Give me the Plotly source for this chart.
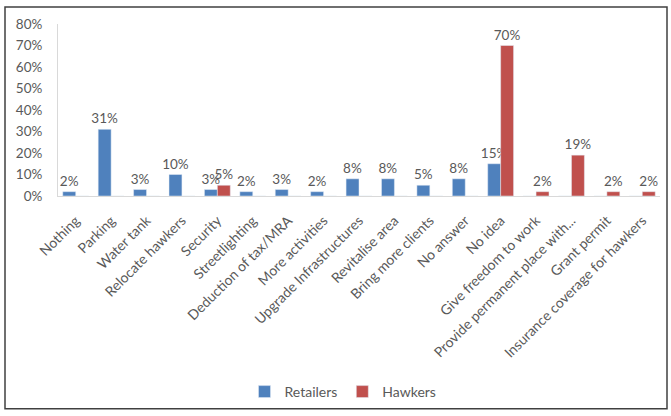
import plotly.graph_objects as go

categories = ["Nothing", "Parking", "Water tank", "Relocate hawkers", "Security",
              "Streetlighting", "Deduction of tax/MRA", "More activities",
              "Upgrade Infrastructures", "Revitalise area", "Bring more clients",
              "No answer", "No idea", "Give freedom to work",
              "Provide permanent place with...", "Grant permit",
              "Insurance coverage for hawkers"]
retailers = [2, 31, 3, 10, 3, 2, 3, 2, 8, 8, 5, 8, 15, 0, 0, 0, 0]
hawkers = [0, 0, 0, 0, 5, 0, 0, 0, 0, 0, 0, 0, 70, 2, 19, 2, 2]

def labels(vals):
    return [f"{v}%" if v else "" for v in vals]

FONT = "Lato, Liberation Sans, sans-serif"
GRAY = "#595959"
FS = 14

fig = go.Figure()
fig.add_trace(go.Bar(x=categories, y=retailers, name="Retailers",
                     marker_color="#4F81BD", text=labels(retailers),
                     textposition="outside", cliponaxis=False,
                     textfont=dict(color=GRAY, size=13.5, family=FONT)))
fig.add_trace(go.Bar(x=categories, y=hawkers, name="Hawkers",
                     marker_color="#C0504D", text=labels(hawkers),
                     textposition="outside", cliponaxis=False,
                     textfont=dict(color=GRAY, size=13.5, family=FONT)))

T, B = 24, 197
H = B - T
L, R = 58, 660
W = R - L

fig.update_layout(
    width=671, height=416,
    margin=dict(l=L, r=671 - R, t=T, b=416 - B),
    paper_bgcolor="white", plot_bgcolor="white",
    barmode="group", bargap=0.27, bargroupgap=0,
    font=dict(family=FONT, color=GRAY, size=FS),
    showlegend=True,
    legend=dict(orientation="h", x=(343 - L) / W, xanchor="center",
                y=(B - 392) / H, yanchor="middle",
                font=dict(size=FS, color=GRAY),
                itemwidth=30, tracegroupgap=0),
    uniformtext=dict(minsize=13.5, mode="show"),
)
fig.update_xaxes(tickangle=-45, showline=True, linecolor="#D9D9D9",
                 linewidth=1, showgrid=False, ticks="",
                 ticklabelstandoff=10, ticklabelshift=0,
                 tickfont=dict(size=FS, color=GRAY, family=FONT))
fig.update_yaxes(range=[0, 80], dtick=10, ticksuffix="%", showline=True,
                 linecolor="#D9D9D9", linewidth=1, showgrid=False,
                 zeroline=False, ticks="", ticklabelstandoff=12,
                 tickfont=dict(size=13.5, color=GRAY, family=FONT))

fig.add_shape(type="rect", xref="paper", yref="paper",
              x0=(5 - L) / W, x1=(667 - L) / W,
              y0=(B - 411) / H, y1=(B - 7) / H,
              line=dict(color="#404040", width=1.5), fillcolor="rgba(0,0,0,0)",
              layer="below")

fig.write_html("out.html", config={"displayModeBar": False},
               post_script="document.body.style.margin='0px';")
